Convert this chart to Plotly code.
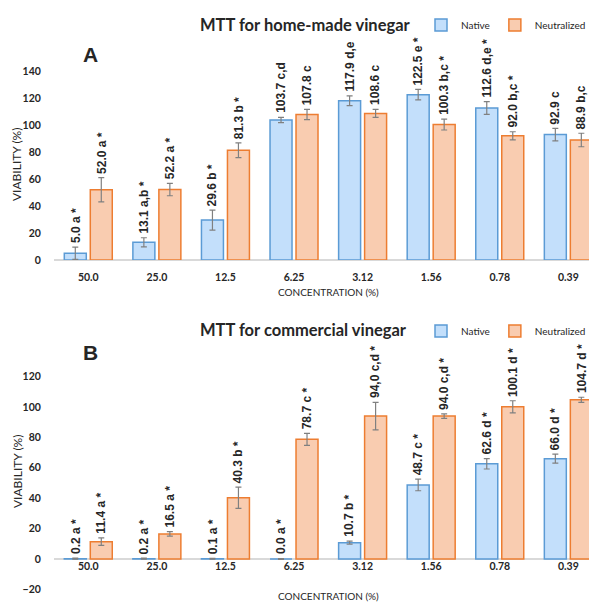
import plotly.graph_objects as go

categories = ["50.0", "25.0", "12.5", "6.25", "3.12", "1.56", "0.78", "0.39"]

# Panel A: home-made vinegar
a_native = [5.0, 13.1, 29.6, 103.7, 117.9, 122.5, 112.6, 92.9]
a_native_err = [4.5, 3.4, 7.4, 2.0, 3.6, 3.9, 4.7, 4.6]
a_native_lbl = ["5.0 a *", "13.1 a,b *", "29.6 b *", "103.7 c,d", "117.9 d,e",
                "122.5 e *", "112.6 d,e *", "92.9 c"]
a_neutral = [52.0, 52.2, 81.3, 107.8, 108.6, 100.3, 92.0, 88.9]
a_neutral_err = [9.0, 4.6, 5.5, 3.8, 3.0, 4.0, 3.0, 5.0]
a_neutral_lbl = ["52.0 a *", "52.2 a *", "81.3 b *", "107.8 c", "108.6 c",
                 "100.3 b,c *", "92.0 b,c *", "88.9 b,c"]

# Panel B: commercial vinegar
b_native = [0.2, 0.2, 0.1, 0.0, 10.7, 48.7, 62.6, 66.0]
b_native_err = [0.3, 0.3, 0.3, 0.3, 1.0, 3.8, 3.4, 3.0]
b_native_lbl = ["0.2 a *", "0.2 a *", "0.1 a *", "0.0 a *", "10.7 b *",
                "48.7 c *", "62.6 d *", "66.0 d *"]
b_neutral = [11.4, 16.5, 40.3, 78.7, 94.0, 94.0, 100.1, 104.7]
b_neutral_err = [2.5, 1.5, 7.0, 4.0, 9.0, 1.5, 4.0, 1.7]
b_neutral_lbl = ["11.4 a *", "16.5 a *", "40.3 b *", "78.7 c *", "94,0 c,d *",
                 "94.0 c,d *", "100.1 d *", "104.7 d *"]

# page body has an 8px margin: figure occupies window pixels 8..597 x 8..603
OFF = 8
W, H = 597 - OFF, 603 - OFF
NATIVE_FILL, NATIVE_LINE = "#c3dffb", "#5b9bd5"
NEUT_FILL, NEUT_LINE = "#f9ccb0", "#ed7d31"
TXT = "#262626"

def px(p):  # window pixel x -> paper fraction
    return (p - OFF) / W

def py(p):  # window pixel y -> paper fraction
    return 1 - (p - OFF) / H

A_RANGE = [0, 150]
B_RANGE = [-22, 130]
A_DOM = [py(260), py(57.5)]
B_DOM = [py(592.4), py(361.4)]
X_DOM = [px(54), 1.0]
X_RANGE = [-0.5, 7.418]

fig = go.Figure()

def add_bars(vals, errs, name, fill, line, xa, ya, legend):
    fig.add_trace(go.Bar(
        x=categories, y=vals, name=name, xaxis=xa, yaxis=ya, legend=legend,
        marker=dict(color=fill, line=dict(color=line, width=1.5)),
        error_y=dict(type="data", array=errs, color="#808080", thickness=1.2, width=3),
    ))

add_bars(a_native, a_native_err, "Native", NATIVE_FILL, NATIVE_LINE, "x", "y", "legend")
add_bars(a_neutral, a_neutral_err, "Neutralized", NEUT_FILL, NEUT_LINE, "x", "y", "legend")
add_bars(b_native, b_native_err, "Native", NATIVE_FILL, NATIVE_LINE, "x2", "y2", "legend2")
add_bars(b_neutral, b_neutral_err, "Neutralized", NEUT_FILL, NEUT_LINE, "x2", "y2", "legend2")

annotations = []
def add_labels(vals, errs, labels, xref, yref, shift):
    for i, (v, e, t) in enumerate(zip(vals, errs, labels)):
        annotations.append(dict(
            x=i, y=v + e, xref=xref, yref=yref, text=t, showarrow=False,
            textangle=-90, xanchor="center", yanchor="bottom", xshift=shift, yshift=2,
            font=dict(family="Liberation Sans", size=12, color=TXT, weight="bold"),
        ))

add_labels(a_native, a_native_err, a_native_lbl, "x", "y", -13)
add_labels(a_neutral, a_neutral_err, a_neutral_lbl, "x", "y", 13)
add_labels(b_native, b_native_err, b_native_lbl, "x2", "y2", -13)
add_labels(b_neutral, b_neutral_err, b_neutral_lbl, "x2", "y2", 13)

def paper_text(x, y, text, size, weight="normal", angle=0, family="Lato"):
    annotations.append(dict(
        x=px(x), y=py(y), xref="paper", yref="paper", text=text, showarrow=False,
        xanchor="center", yanchor="middle", textangle=angle,
        font=dict(family=family, size=size, color=TXT, weight=weight),
    ))

paper_text(305, 25, "MTT for home-made vinegar", 16.5, "bold")
paper_text(303, 330, "MTT for commercial vinegar", 16.5, "bold")
paper_text(90, 55, "A", 21, "bold", family="Liberation Sans")
paper_text(90, 352, "B", 21, "bold", family="Liberation Sans")
paper_text(17, 165, "VIABILITY (%)", 12, angle=-90)
paper_text(17, 472, "VIABILITY (%)", 12, angle=-90)
paper_text(328, 292, "CONCENTRATION (%)", 10)
paper_text(328, 596, "CONCENTRATION (%)", 10)

tickfont = dict(family="Lato", size=10.5, color=TXT, weight="bold")
x2_pos = B_DOM[0] + (0 - B_RANGE[0]) / (B_RANGE[1] - B_RANGE[0]) * (B_DOM[1] - B_DOM[0]) + 6 / H

yaxis_common = dict(showgrid=False, zeroline=True, zerolinecolor="#d9d9d9", zerolinewidth=1.5,
                    tickfont=tickfont, ticks="outside", ticklen=10, automargin=False,
                    tickcolor="rgba(0,0,0,0)", ticklabelstandoff=0)
legend_common = dict(orientation="h", xanchor="left", yanchor="middle",
                     font=dict(family="Lato", size=10, color=TXT), itemwidth=30,
                     bgcolor="rgba(0,0,0,0)", tracegroupgap=0)

fig.update_layout(
    width=W, height=H,
    margin=dict(l=0, r=0, t=0, b=0, autoexpand=False),
    paper_bgcolor="white", plot_bgcolor="white",
    barmode="group", bargap=0.242, bargroupgap=0.154,
    annotations=annotations,
    xaxis=dict(type="category", domain=X_DOM, range=X_RANGE, anchor="y", showgrid=False,
               showline=False, tickfont=tickfont, ticks="", ticklabelstandoff=9,
               automargin=False),
    yaxis=dict(domain=A_DOM, range=A_RANGE, anchor="x",
               tickvals=[0, 20, 40, 60, 80, 100, 120, 140], **yaxis_common),
    xaxis2=dict(type="category", domain=X_DOM, range=X_RANGE, anchor="free", position=x2_pos,
                showgrid=False, showline=False, tickfont=tickfont, ticks="",
                ticklabelstandoff=6, automargin=False),
    yaxis2=dict(domain=B_DOM, range=B_RANGE, anchor="x2",
                tickvals=[-20, 0, 20, 40, 60, 80, 100, 120], **yaxis_common),
    legend=dict(x=px(421), y=py(25), **legend_common),
    legend2=dict(x=px(421), y=py(331), **legend_common),
)

fig.write_html("out.html")
